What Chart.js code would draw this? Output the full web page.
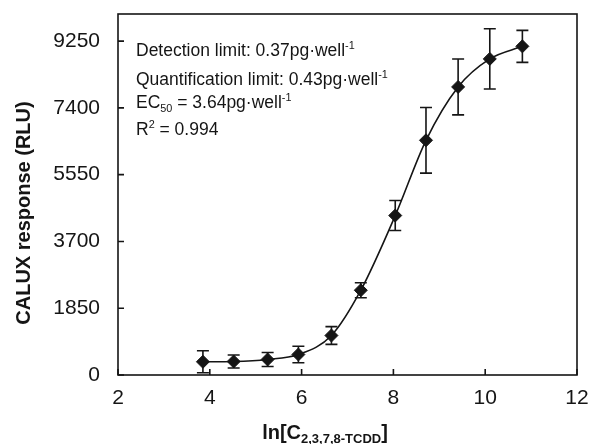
<!DOCTYPE html>
<html>
<head>
<meta charset="utf-8">
<script src="https://cdn.jsdelivr.net/npm/chart.js@4.4.0/dist/chart.umd.min.js"></script>
<style>
  html, body { margin: 0; padding: 0; background: #fff; }
</style>
</head>
<body>
<canvas id="caluxChart" width="591" height="444"></canvas>
<script>
'use strict';

/* ── data ── */
const lnConc      = [3.85, 4.52, 5.26, 5.93, 6.65, 7.29, 8.04, 8.71, 9.41, 10.10, 10.81];
const response    = [366, 374, 430, 568, 1094, 2348, 4417, 6502, 7980, 8756, 9104];
const responseErr = [305, 180, 195, 230, 245, 208, 415, 910, 775, 835, 443];

const xTicks = [2, 4, 6, 8, 10, 12];
const yTicks = [0, 1850, 3700, 5550, 7400, 9250];

const yTitle = 'CALUX response (RLU)';
const xTitleMain = 'ln[C';
const xTitleSub = '2,3,7,8-TCDD';
const xTitleEnd = ']';

// each note line is a list of [text, kind] pieces
const noteLines = [
    [['Detection limit: 0.37pg\u00b7well', ''], ['-1', 'sup']],
    [['Quantification limit: 0.43pg\u00b7well', ''], ['-1', 'sup']],
    [['EC', ''], ['50', 'sub'], [' = 3.64pg\u00b7well', ''], ['-1', 'sup']],
    [['R', ''], ['2', 'sup'], [' = 0.994', '']],
];

const FONT = "'Liberation Sans', Arial, sans-serif";
const INK = '#151515';

/* ── error bars, drawn under the markers ── */
const errorBars = {
    id: 'errorBars',
    beforeDatasetsDraw(chart) {
        const { ctx, scales: { x, y } } = chart;
        ctx.save();
        ctx.strokeStyle = INK;
        ctx.lineWidth = 1.6;
        lnConc.forEach((v, i) => {
            const px = x.getPixelForValue(v);
            const top = y.getPixelForValue(response[i] + responseErr[i]);
            const bot = y.getPixelForValue(response[i] - responseErr[i]);
            ctx.beginPath();
            ctx.moveTo(px, top); ctx.lineTo(px, bot);
            ctx.moveTo(px - 6, top); ctx.lineTo(px + 6, top);
            ctx.moveTo(px - 6, bot); ctx.lineTo(px + 6, bot);
            ctx.stroke();
        });
        ctx.restore();
    },
};

/* ── frame, inward ticks, titles and the note block ── */
function drawRich(ctx, x, y, pieces, size) {
    let cx = x;
    pieces.forEach(([text, kind]) => {
        let fs = size, dy = 0;
        if (kind === 'sup') { fs = size * 0.62; dy = -size * 0.42; }
        if (kind === 'sub') { fs = size * 0.62; dy = size * 0.22; }
        ctx.font = `${fs}px ${FONT}`;
        ctx.fillText(text, cx, y + dy);
        cx += ctx.measureText(text).width;
    });
}

const frame = {
    id: 'frame',
    afterDraw(chart) {
        const { ctx, chartArea: a, scales: { x, y } } = chart;
        ctx.save();
        ctx.strokeStyle = INK;
        ctx.lineWidth = 1.6;
        ctx.strokeRect(a.left, a.top, a.right - a.left, a.bottom - a.top);
        ctx.beginPath();
        xTicks.forEach(v => {
            const px = x.getPixelForValue(v);
            ctx.moveTo(px, a.bottom); ctx.lineTo(px, a.bottom - 6);
        });
        yTicks.forEach(v => {
            const py = y.getPixelForValue(v);
            ctx.moveTo(a.left, py); ctx.lineTo(a.left + 6, py);
        });
        ctx.stroke();

        ctx.fillStyle = INK;
        ctx.textAlign = 'left';
        ctx.textBaseline = 'alphabetic';

        // y title
        ctx.save();
        ctx.translate(30, 213);
        ctx.rotate(-Math.PI / 2);
        ctx.font = `bold 20px ${FONT}`;
        ctx.textAlign = 'center';
        ctx.fillText(yTitle, 0, 0);
        ctx.restore();

        // x title with subscript
        ctx.font = `bold 20px ${FONT}`;
        const w1 = ctx.measureText(xTitleMain).width;
        const w3 = ctx.measureText(xTitleEnd).width;
        ctx.font = `bold 13px ${FONT}`;
        const w2 = ctx.measureText(xTitleSub).width;
        let tx = 325 - (w1 + w2 + w3) / 2;
        ctx.font = `bold 20px ${FONT}`;
        ctx.fillText(xTitleMain, tx, 439);
        tx += w1;
        ctx.font = `bold 13px ${FONT}`;
        ctx.fillText(xTitleSub, tx, 443);
        tx += w2;
        ctx.font = `bold 20px ${FONT}`;
        ctx.fillText(xTitleEnd, tx, 439);

        // note block
        const baselines = [56, 85, 108, 135];
        noteLines.forEach((line, i) => drawRich(ctx, 136, baselines[i], line, 17.5));
        ctx.restore();
    },
};

new Chart(document.getElementById('caluxChart'), {
    type: 'scatter',
    data: {
        datasets: [{
            data: lnConc.map((v, i) => ({ x: v, y: response[i] })),
            showLine: true,
            borderColor: INK,
            borderWidth: 1.6,
            cubicInterpolationMode: 'monotone',
            pointStyle: 'rectRot',
            pointRadius: 6.5,
            pointBackgroundColor: INK,
            pointBorderColor: INK,
            pointBorderWidth: 1,
        }],
    },
    options: {
        responsive: false,
        animation: false,
        devicePixelRatio: 1,
        layout: { padding: { top: 14, right: 14, left: 0, bottom: 0 } },
        plugins: { legend: { display: false }, tooltip: { enabled: false } },
        scales: {
            x: {
                type: 'linear',
                min: 2,
                max: 12,
                afterBuildTicks: s => { s.ticks = xTicks.map(v => ({ value: v })); },
                afterFit: s => { s.height = 69; s.paddingLeft = 0; s.paddingRight = 0; },
                grid: { display: false, drawTicks: false },
                border: { display: false },
                ticks: {
                    color: INK,
                    font: { family: FONT, size: 21 },
                    padding: 11,
                    maxRotation: 0,
                    autoSkip: false,
                    callback: v => String(v),
                },
            },
            y: {
                min: 0,
                max: 10000,
                afterBuildTicks: s => { s.ticks = yTicks.map(v => ({ value: v })); },
                afterFit: s => { s.width = 118; s.paddingTop = 0; s.paddingBottom = 0; },
                grid: { display: false, drawTicks: false },
                border: { display: false },
                ticks: {
                    color: INK,
                    font: { family: FONT, size: 21 },
                    padding: 18,
                    autoSkip: false,
                    callback: v => String(v),
                },
            },
        },
    },
    plugins: [errorBars, frame],
});
</script>
</body>
</html>
